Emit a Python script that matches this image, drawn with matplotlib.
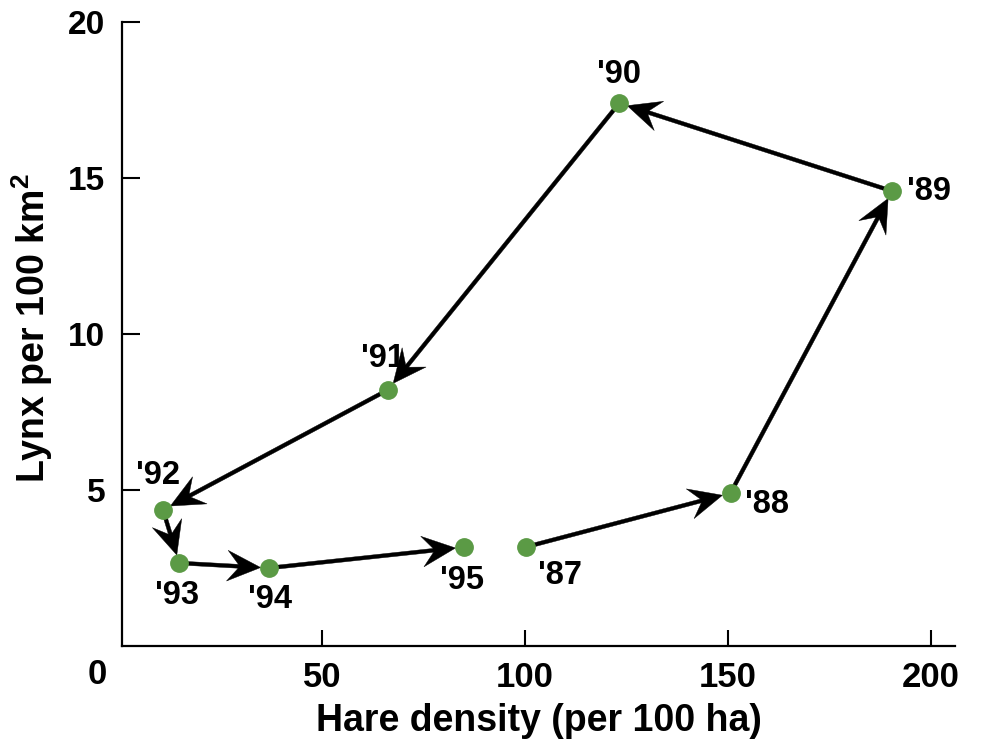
import numpy as np
import matplotlib
matplotlib.use("Agg")
import matplotlib.pyplot as plt
from matplotlib.patches import ArrowStyle, FancyArrowPatch
from matplotlib.path import Path

# ---------------- data ----------------
years = ["'87", "'88", "'89", "'90", "'91", "'92", "'93", "'94", "'95"]
hare = [100.1, 150.6, 190.4, 123.2, 66.2, 10.8, 14.8, 36.9, 84.9]
lynx = [3.17, 4.90, 14.58, 17.40, 8.21, 4.36, 2.66, 2.50, 3.17]
xticks = [50, 100, 150, 200]
yticks = [5, 10, 15, 20]

# label offsets (pixels, layout only)
label_offsets = [(34, -28), (36, -11), (37, 0), (0, 29), (-5, 31),
                 (-5, 34), (-2, -32), (1, -31), (-2, -33)]

plt.rcParams['font.family'] = ['Liberation Sans', 'DejaVu Sans']
plt.rcParams['font.weight'] = 'bold'
plt.rcParams['mathtext.fontset'] = 'custom'
plt.rcParams['mathtext.rm'] = 'Liberation Sans:bold'
plt.rcParams['mathtext.bf'] = 'Liberation Sans:bold'
plt.rcParams['mathtext.it'] = 'Liberation Sans:bold'

DPI = 100
fig = plt.figure(figsize=(9.81, 7.41), dpi=DPI)
W, H = 981, 741
left, right, bottom, top = 122, 955, 646, 22
ax = fig.add_axes([left / W, 1 - bottom / H, (right - left) / W, (bottom - top) / H])

ax.set_xlim(0.7, 205.9)
ax.set_ylim(0, 20)

for s in ['top', 'right']:
    ax.spines[s].set_visible(False)
for s in ['left', 'bottom']:
    ax.spines[s].set_linewidth(1.6)
    ax.spines[s].set_color('black')

ax.set_xticks(xticks)
ax.set_yticks(yticks)
ax.set_xticklabels([str(v) for v in xticks])
ax.set_yticklabels([str(v) for v in yticks])
ax.tick_params(axis='x', direction='in', length=11.5, width=1.5, pad=11, labelsize=25)
ax.tick_params(axis='y', direction='in', length=13, width=1.5, pad=12, labelsize=24)
for lab in ax.get_xticklabels() + ax.get_yticklabels():
    lab.set_fontweight('bold')

# origin label
ax.annotate('0', xy=(0, 0), xycoords='data', xytext=(-22 * 0.72, -29 * 0.72),
            textcoords='offset points', ha='center', va='center',
            fontsize=25, fontweight='bold', annotation_clip=False)

ax.set_xlabel('Hare density (per 100 ha)', fontsize=27, fontweight='bold')
ax.set_ylabel(r'Lynx per 100 km$^{2}$', fontsize=27, fontweight='bold')
ax.xaxis.set_label_coords(0.5, (bottom - 703) / (bottom - top))
ax.yaxis.set_label_coords((55 - left) / (right - left), 0.51)


class Stealth(ArrowStyle._Base):
    def __init__(self, head_length=1.0, head_width=0.46, notch=0.33, tail_width=0.058):
        self.head_length = head_length
        self.head_width = head_width
        self.notch = notch
        self.tail_width = tail_width
        super().__init__()

    def transmute(self, path, mutation_size, linewidth):
        x0, y0 = path.vertices[0]
        x1, y1 = path.vertices[-1]
        dx, dy = x1 - x0, y1 - y0
        L = np.hypot(dx, dy)
        ux, uy = dx / L, dy / L
        px, py = -uy, ux
        hl = self.head_length * mutation_size
        hw = self.head_width * mutation_size
        tw = self.tail_width * mutation_size
        bx, by = x1 - ux * hl, y1 - uy * hl
        nx, ny = x1 - ux * hl * (1 - self.notch), y1 - uy * hl * (1 - self.notch)
        verts = [
            (x0 + px * tw, y0 + py * tw),
            (nx + px * tw, ny + py * tw),
            (bx + px * hw, by + py * hw),
            (x1, y1),
            (bx - px * hw, by - py * hw),
            (nx - px * tw, ny - py * tw),
            (x0 - px * tw, y0 - py * tw),
            (x0 + px * tw, y0 + py * tw),
        ]
        codes = [Path.MOVETO] + [Path.LINETO] * 6 + [Path.CLOSEPOLY]
        return Path(verts, codes), True


for i in range(len(hare) - 1):
    arr = FancyArrowPatch((hare[i], lynx[i]), (hare[i + 1], lynx[i + 1]),
                          arrowstyle=Stealth(), mutation_scale=24,
                          shrinkA=0, shrinkB=6.0,
                          facecolor='black', edgecolor='black', linewidth=0.3,
                          zorder=2)
    ax.add_patch(arr)

ax.plot(hare, lynx, linestyle='none', marker='o', markersize=12.5,
        markerfacecolor='#5b9a45', markeredgecolor='#5b9a45', zorder=3)

for yr, xv, yv, (ox, oy) in zip(years, hare, lynx, label_offsets):
    ax.annotate(yr, xy=(xv, yv), xytext=(ox * 0.72, oy * 0.72),
                textcoords='offset points', ha='center', va='center',
                fontsize=23.5, fontweight='bold', zorder=4)

fig.savefig('out.png', dpi=DPI)
